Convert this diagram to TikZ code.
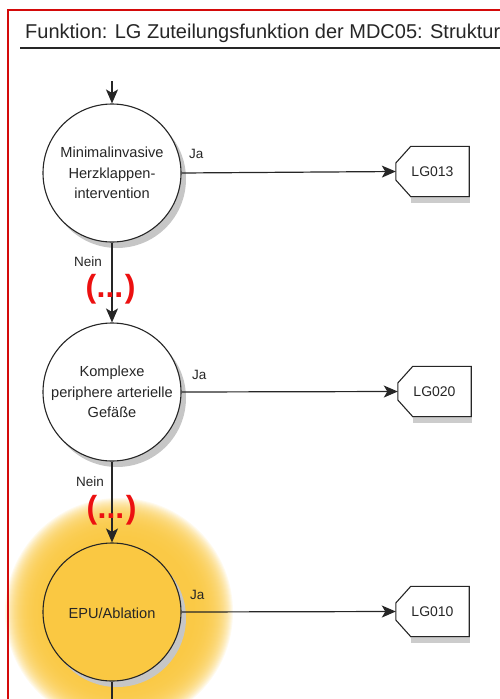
\documentclass[tikz,border=0pt]{standalone}
\usepackage{fontspec}
\setmainfont{Liberation Sans}
\usetikzlibrary{arrows.meta,shadows}
\definecolor{glowgold}{RGB}{250,200,66}
\definecolor{framered}{RGB}{212,10,10}
\definecolor{dotsred}{RGB}{236,16,16}
\definecolor{ink}{RGB}{38,38,38}
\begin{document}
\begin{tikzpicture}[x=1pt,y=-1pt,
  decision/.style={circle, draw=ink, line width=1.1pt, fill=white,
    minimum size=138pt, inner sep=0pt,
    drop shadow={shadow xshift=5pt, shadow yshift=-6pt, fill=gray!45, opacity=1}},
  ctext/.style={align=center, text=ink, font=\fontsize{14.6}{20.5}\selectfont},
  tag/.style={rectangle, minimum width=73pt, minimum height=50pt, inner sep=0pt,
    text=ink, font=\fontsize{14}{16}\selectfont},
  tagline/.style={draw=ink, line width=1.1pt, line join=miter},
  conn/.style={draw=ink, line width=1.2pt, -{Stealth[length=14pt,width=12pt,inset=3.5pt]}},
  plain/.style={draw=ink, line width=1.2pt},
  edgelabel/.style={text=ink, font=\fontsize{13.5}{15}\selectfont, inner sep=0pt},
  elision/.style={text=dotsred, font=\bfseries\fontsize{32}{34}\selectfont, inner sep=0pt}
]
\useasboundingbox (0,0) rectangle (500,699);

% soft golden halo behind the third decision
\begin{scope}
  \clip (0,0) rectangle (500,699);
  \foreach \r in {76,77,...,114}
    \fill[glowgold, opacity=0.09] (119,612) circle (\r);
\end{scope}

% frame and heading
\draw[framered, line width=1.8pt] (8,700) -- (8,10) -- (501,10);
\node[anchor=base west, inner sep=0pt, text=ink, font=\fontsize{20}{22}\selectfont]
  (title) at (25,38) {Funktion: LG Zuteilungsfunktion der MDC05: Struktur};
\draw[ink, line width=2.2pt] (20,48.3) -- (501,48.3);

% decisions
\node[decision] (c1) at (112,173) {};
\node[ctext] (t1) at (c1) {Minimalinvasive\\Herzklappen-\\intervention};
\node[decision] (c2) at (112,392) {};
\node[ctext] (t2) at (c2) {Komplexe\\periphere arterielle\\Gefäße};
\node[decision, fill=glowgold] (c3) at (112,612) {};
\node[ctext] (t3) at ([yshift=-1pt]c3.center) {EPU/Ablation};

% result tags
\node[tag] (b1) at (432.5,171.5) {LG013};
\node[tag] (b2) at (434.5,391.5) {LG020};
\node[tag] (b3) at (432.5,611.5) {LG010};
\foreach \b in {b1,b2,b3} {
  \fill[gray!40] ([xshift=15pt,yshift=-1.5pt]\b.south west) rectangle ([xshift=0.5pt,yshift=-6.5pt]\b.south east);
  \draw[tagline] ([yshift=8.5pt]\b.west) -- ([xshift=15pt]\b.north west) -- (\b.north east)
    -- (\b.south east) -- ([xshift=15pt]\b.south west) -- ([yshift=-8.5pt]\b.west) -- cycle;
}

% connectors
\coordinate (entry) at (112,81);
\coordinate (exit) at (112,702);
\draw[conn] (entry) -- (c1.north);
\draw[conn] (c1.south) -- (c2.north);
\draw[conn] (c2.south) -- (c3.north);
\draw[plain] (c3.south) -- (exit);
\draw[conn] (c1.east) -- (b1.west);
\draw[conn] (c2.east) -- (b2.west);
\draw[conn] (c3.east) -- (b3.west);

% branch labels
\node[edgelabel, anchor=base west] (ja1) at (189,158) {Ja};
\node[edgelabel, anchor=base west] (ja2) at (192,379) {Ja};
\node[edgelabel, anchor=base west] (ja3) at (190,599) {Ja};
\node[edgelabel, anchor=base east] (nein1) at (102,266) {Nein};
\node[edgelabel, anchor=base east] (nein2) at (104,486) {Nein};

% omitted steps
\node[elision] (gap1) at (110.5,289.5) {(\kern0.5pt...\kern1.5pt)};
\node[elision] (gap2) at (111.5,510.5) {(\kern0.5pt...\kern1.5pt)};
\end{tikzpicture}
\end{document}
